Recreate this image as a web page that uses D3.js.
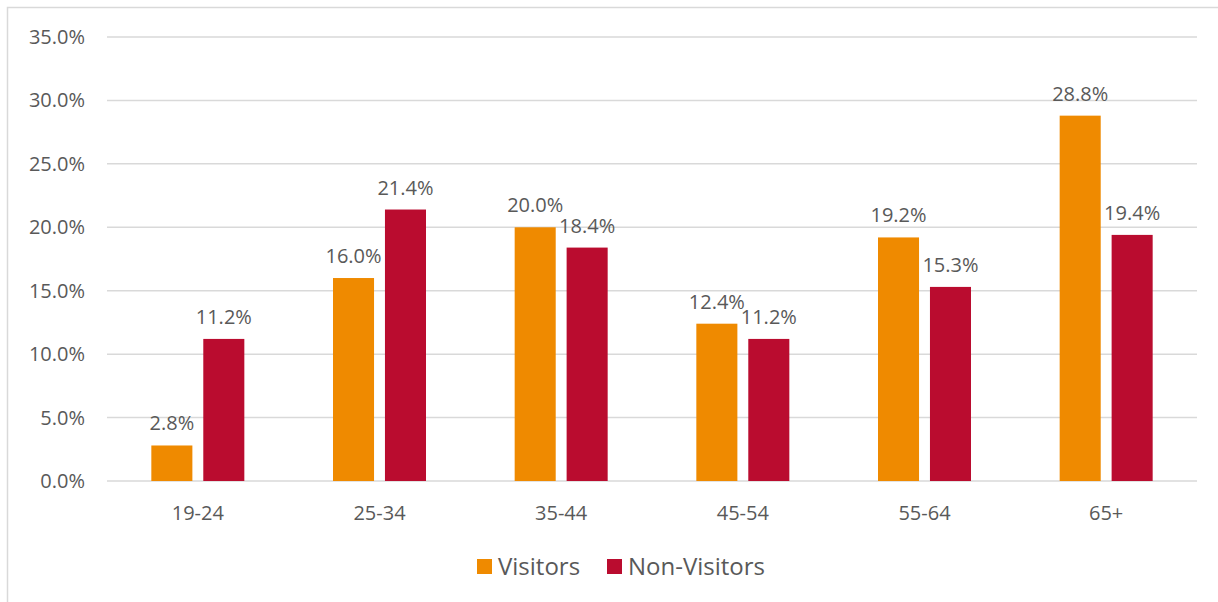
<!DOCTYPE html>
<html>
<head>
<meta charset="utf-8">
<script src="https://cdn.jsdelivr.net/npm/d3@7"></script>
<style>
  body { margin: 0; background: #fff; }
  text { font-family: "Open Sans", sans-serif; fill: #595959; }
</style>
</head>
<body>
<div id="chart"></div>
<script>
const categories = ["19-24", "25-34", "35-44", "45-54", "55-64", "65+"];
const seriesNames = ["Visitors", "Non-Visitors"];
const visitors = [2.8, 16.0, 20.0, 12.4, 19.2, 28.8];
const nonVisitors = [11.2, 21.4, 18.4, 11.2, 15.3, 19.4];
const yTicks = [0, 5, 10, 15, 20, 25, 30, 35];
const colors = ["#ef8a00", "#ba0c2f"];

const W = 1218, H = 602;
const margin = {top: 37, right: 21, bottom: 121, left: 107};
const width = W - margin.left - margin.right,
    height = H - margin.top - margin.bottom;

const svg = d3.select("#chart")
    .append("svg")
    .attr("width", W)
    .attr("height", H);

// outer chart border (only top/left visible in frame)
svg.append("rect")
    .attr("x", 7.5).attr("y", 7.5)
    .attr("width", W + 20).attr("height", H + 20)
    .attr("fill", "none")
    .attr("stroke", "#d9d9d9")
    .attr("stroke-width", 1.5);

const g = svg.append("g")
    .attr("transform", `translate(${margin.left},${margin.top})`);

const x = d3.scaleBand().domain(categories).range([0, width]);
const x1 = d3.scaleBand().domain(seriesNames)
    .range([x.bandwidth() / 2 - 46.5, x.bandwidth() / 2 + 46.5])
    .paddingInner(0.21);
const y = d3.scaleLinear().domain([0, 35]).range([height, 0]);

// gridlines
g.selectAll(".grid")
    .data(yTicks)
    .join("line")
    .attr("x1", 0).attr("x2", width)
    .attr("y1", d => y(d)).attr("y2", d => y(d))
    .attr("stroke", "#d9d9d9")
    .attr("stroke-width", 1.5);

// y labels
g.selectAll(".ylab")
    .data(yTicks)
    .join("text")
    .attr("x", -22)
    .attr("y", d => y(d) + 7)
    .attr("text-anchor", "end")
    .style("font-size", "20px")
    .text(d => d.toFixed(1) + "%");

const rows = categories.map((c, i) => ({cat: c, vals: [visitors[i], nonVisitors[i]]}));

const grp = g.selectAll(".grp")
    .data(rows)
    .join("g")
    .attr("transform", d => `translate(${x(d.cat)},0)`);

grp.selectAll("rect")
    .data(d => d.vals.map((v, j) => ({key: seriesNames[j], v: v, j: j})))
    .join("rect")
    .attr("x", d => x1(d.key))
    .attr("width", x1.bandwidth())
    .attr("y", d => y(d.v))
    .attr("height", d => height - y(d.v))
    .attr("fill", d => colors[d.j]);

grp.selectAll(".lab")
    .data(d => d.vals.map((v, j) => ({key: seriesNames[j], v: v, j: j})))
    .join("text")
    .attr("x", d => x1(d.key) + x1.bandwidth() / 2)
    .attr("y", d => y(d.v) - 15)
    .attr("text-anchor", "middle")
    .style("font-size", "20px")
    .text(d => d.v.toFixed(1) + "%");

// x labels
g.selectAll(".xlab")
    .data(categories)
    .join("text")
    .attr("x", d => x(d) + x.bandwidth() / 2)
    .attr("y", height + 39)
    .attr("text-anchor", "middle")
    .style("font-size", "20px")
    .text(d => d);

// legend
const legendX = [477, 607];
const legend = svg.selectAll(".leg")
    .data(seriesNames)
    .join("g")
    .attr("transform", (d, i) => `translate(${legendX[i]},559)`);
legend.append("rect")
    .attr("width", 15).attr("height", 15)
    .attr("fill", (d, i) => colors[i]);
legend.append("text")
    .attr("x", 21)
    .attr("y", 16)
    .style("font-size", "24px")
    .text(d => d);
</script>
</body>
</html>
